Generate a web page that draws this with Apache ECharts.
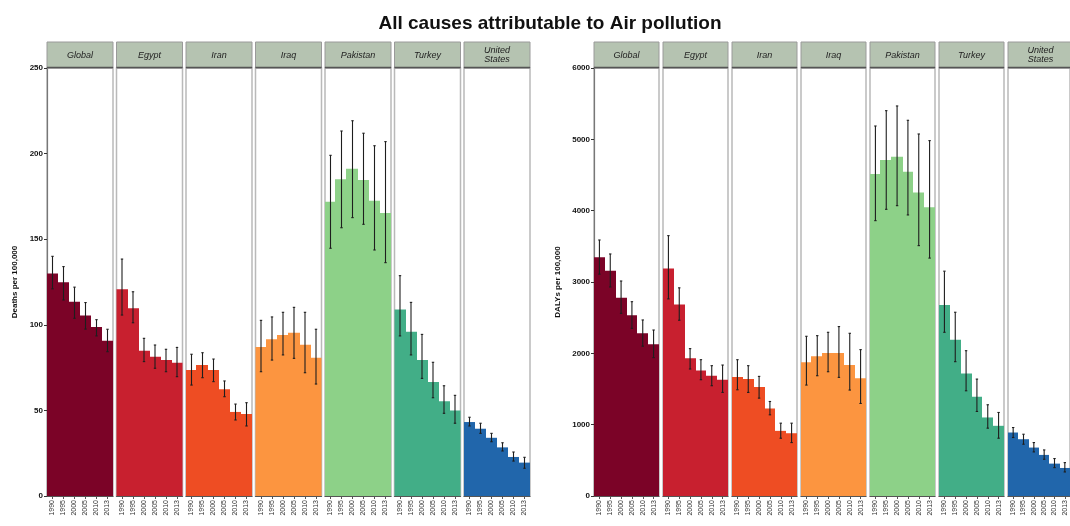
<!DOCTYPE html>
<html>
<head>
<meta charset="utf-8">
<script src="https://cdn.jsdelivr.net/npm/echarts@6/dist/echarts.min.js"></script>
<style>
html,body{margin:0;padding:0;background:#fff;}
#chart{width:1070px;height:526px;}
</style>
</head>
<body>
<div id="chart"></div>
<script>
const years = ['1990', '1995', '2000', '2005', '2010', '2013'];
const countries = ['Global', 'Egypt', 'Iran', 'Iraq', 'Pakistan', 'Turkey', 'United\nStates'];
const countryColors = ['#7b0327', '#c8202f', '#ee4d23', '#fc9540', '#8dd188', '#42ae87', '#2166ab'];

const deathsTicks = [0, 50, 100, 150, 200, 250];
const dalysTicks = [0, 1000, 2000, 3000, 4000, 5000, 6000];

const deathsMean = [
  [130, 124.8, 113.5, 105.5, 98.7, 90.7],
  [120.7, 109.6, 84.9, 81.4, 79.4, 77.9],
  [73.6, 76.5, 73.6, 62.3, 49.1, 47.9],
  [87, 91.5, 94, 95.4, 88.4, 80.8],
  [171.9, 185, 191.2, 184.6, 172.5, 165.3],
  [109, 96, 79.4, 66.6, 55.3, 50],
  [43.2, 39.3, 34, 28.4, 22.8, 19.5]
];
const deathsLower = [
  [121, 114.5, 103.8, 97.5, 93.5, 84.3],
  [105.7, 101.2, 78.5, 74.6, 72.6, 69.7],
  [64.8, 69.1, 66.8, 58, 44.4, 40.9],
  [72.6, 79.4, 82.4, 80.4, 72, 65.4],
  [144.7, 156.7, 162.6, 158.7, 143.7, 136.3],
  [93.5, 82.4, 68.7, 57.4, 48.3, 42.5],
  [40.9, 36.6, 31.7, 26.3, 20.4, 16.2]
];
const deathsUpper = [
  [140, 134, 122, 113, 103, 97.4],
  [138.4, 119.3, 92.1, 88.2, 85.7, 86.8],
  [82.8, 83.7, 80, 67.2, 53.7, 54.5],
  [102.6, 104.6, 107.3, 110.2, 107.3, 97.4],
  [199, 213.2, 219.2, 211.9, 204.6, 207],
  [128.7, 113.1, 94.4, 78.1, 64.4, 58.8],
  [46, 42.5, 36.6, 31.1, 25.7, 22.6]
];

const dalysMean = [
  [3346, 3159, 2780, 2533, 2281, 2127],
  [3190, 2684, 1930, 1761, 1686, 1630],
  [1667, 1639, 1527, 1227, 913, 880],
  [1874, 1958, 2005, 2005, 1836, 1649],
  [4514, 4711, 4757, 4547, 4253, 4047],
  [2679, 2192, 1719, 1391, 1101, 984],
  [890, 796, 679, 576, 454, 393]
];
const dalysLower = [
  [3110, 2930, 2560, 2350, 2100, 1940],
  [2763, 2464, 1780, 1630, 1546, 1452],
  [1489, 1452, 1372, 1138, 810, 749],
  [1555, 1686, 1742, 1663, 1485, 1297],
  [3860, 4019, 4070, 3940, 3510, 3335],
  [2295, 1883, 1475, 1185, 951, 810],
  [820, 726, 618, 515, 398, 337]
];
const dalysUpper = [
  [3589, 3393, 3014, 2724, 2468, 2327],
  [3650, 2918, 2066, 1911, 1827, 1836],
  [1911, 1827, 1677, 1325, 1021, 1021],
  [2239, 2248, 2295, 2375, 2281, 2052],
  [5187, 5402, 5468, 5267, 5075, 4982],
  [3152, 2576, 2037, 1639, 1279, 1171],
  [960, 866, 749, 646, 525, 468]
];

const FONT = '"Liberation Sans", Arial, sans-serif';
const chart = echarts.init(document.getElementById('chart'), null, {renderer: 'canvas'});

const stripTop = 42, gridTop = 68, gridBottomY = 496;
const panels = [
  {x0: 47, pitch: 69.5, w: 66, mean: deathsMean, lo: deathsLower, hi: deathsUpper, ticks: deathsTicks, name: 'Deaths per 100,000', nameGap: 28},
  {x0: 594, pitch: 69, w: 65, mean: dalysMean, lo: dalysLower, hi: dalysUpper, ticks: dalysTicks, name: 'DALYs per 100,000', nameGap: 32}
];

const grids = [], xAxes = [], yAxes = [], series = [], graphics = [];
let gi = 0;
panels.forEach((p) => {
  const tMin = p.ticks[0], tMax = p.ticks[p.ticks.length - 1], tInt = p.ticks[1] - p.ticks[0];
  countries.forEach((c, ci) => {
    const left = p.x0 + ci * p.pitch;
    grids.push({left: left, top: gridTop, width: p.w, height: gridBottomY - gridTop,
      show: true, borderColor: '#b9b9b9', borderWidth: 1.5, backgroundColor: '#fff'});
    xAxes.push({type: 'category', gridIndex: gi, data: years, boundaryGap: true,
      axisLine: {show: true, lineStyle: {color: '#555', width: 1.2}},
      axisTick: {show: true, alignWithLabel: true, length: 3, lineStyle: {color: '#555'}},
      axisLabel: {rotate: 90, fontSize: 7, color: '#333', fontFamily: FONT, margin: 4, interval: 0},
      splitLine: {show: false}, splitArea: {show: false}, minorSplitLine: {show: false}});
    const first = ci === 0;
    yAxes.push({type: 'value', gridIndex: gi, min: tMin, max: tMax, interval: tInt,
      name: first ? p.name : '', nameLocation: 'middle', nameRotate: 90, nameGap: p.nameGap,
      nameTextStyle: {fontSize: 8, fontWeight: 'bold', color: '#111', fontFamily: FONT},
      axisLine: {show: first, lineStyle: {color: '#777', width: 1.2}},
      axisTick: {show: first, length: 3, lineStyle: {color: '#333'}},
      axisLabel: {show: first, fontSize: 8, fontWeight: 'bold', color: '#111', fontFamily: FONT, margin: 4,
        formatter: (v) => String(v)},
      splitLine: {show: false}, splitArea: {show: false}});
    const color = countryColors[ci];
    const barData = p.mean[ci].map((v, k) => [k, v]);
    series.push({type: 'custom', xAxisIndex: gi, yAxisIndex: gi, data: barData, silent: true, animation: false,
      encode: {x: 0, y: 1}, z: 2, clip: true,
      renderItem: function (params, api) {
        const top = api.coord([api.value(0), api.value(1)]);
        const base = api.coord([api.value(0), 0]);
        const bw = api.size([1, 0])[0];
        const idx = api.value(0);
        // extend to the left to overlap the previous bar, avoiding anti-alias seams
        const x1 = Math.round(top[0] + bw / 2);
        const x0 = idx === 0 ? top[0] - bw / 2 : Math.round(top[0] - bw / 2) - 1;
        return {type: 'rect', shape: {x: x0, y: top[1], width: (idx === years.length - 1 ? top[0] + bw / 2 : x1) - x0, height: base[1] - top[1]},
          style: {fill: color, stroke: null}};
      }});
    const eb = p.mean[ci].map((v, k) => [k, p.lo[ci][k], p.hi[ci][k]]);
    series.push({type: 'custom', xAxisIndex: gi, yAxisIndex: gi, data: eb, silent: true, animation: false,
      encode: {x: 0, y: [1, 2]}, z: 5,
      renderItem: function (params, api) {
        const lo = api.coord([api.value(0), api.value(1)]);
        const hi = api.coord([api.value(0), api.value(2)]);
        const cap = 1.2;
        const st = {stroke: '#1e1e1e', lineWidth: 1.1};
        return {type: 'group', children: [
          {type: 'line', shape: {x1: hi[0], y1: hi[1], x2: lo[0], y2: lo[1]}, style: st},
          {type: 'line', shape: {x1: hi[0] - cap, y1: hi[1], x2: hi[0] + cap, y2: hi[1]}, style: st},
          {type: 'line', shape: {x1: lo[0] - cap, y1: lo[1], x2: lo[0] + cap, y2: lo[1]}, style: st}
        ]};
      }});
    graphics.push({type: 'rect', shape: {x: left, y: stripTop, width: p.w, height: gridTop - stripTop},
      style: {fill: '#b5c3b1', stroke: '#9a9a9a', lineWidth: 1}, z: 10});
    graphics.push({type: 'line', shape: {x1: left, y1: gridTop - 0.5, x2: left + p.w, y2: gridTop - 0.5},
      style: {stroke: '#555', lineWidth: 1.5}, z: 11});
    graphics.push({type: 'text', x: left + p.w / 2, y: stripTop + (gridTop - stripTop) / 2,
      style: {text: c, fill: '#222', font: 'italic 9px ' + FONT, textAlign: 'center', textVerticalAlign: 'middle', lineHeight: 9}, z: 12});
    gi++;
  });
});

chart.setOption({
  animation: false,
  backgroundColor: '#fff',
  title: {text: 'All causes attributable to Air pollution', left: 545, textAlign: 'center', top: 9,
    textStyle: {fontSize: 19, fontWeight: 'bold', color: '#111', fontFamily: FONT}},
  grid: grids,
  xAxis: xAxes,
  yAxis: yAxes,
  series: series,
  graphic: graphics
});
</script>
</body>
</html>
